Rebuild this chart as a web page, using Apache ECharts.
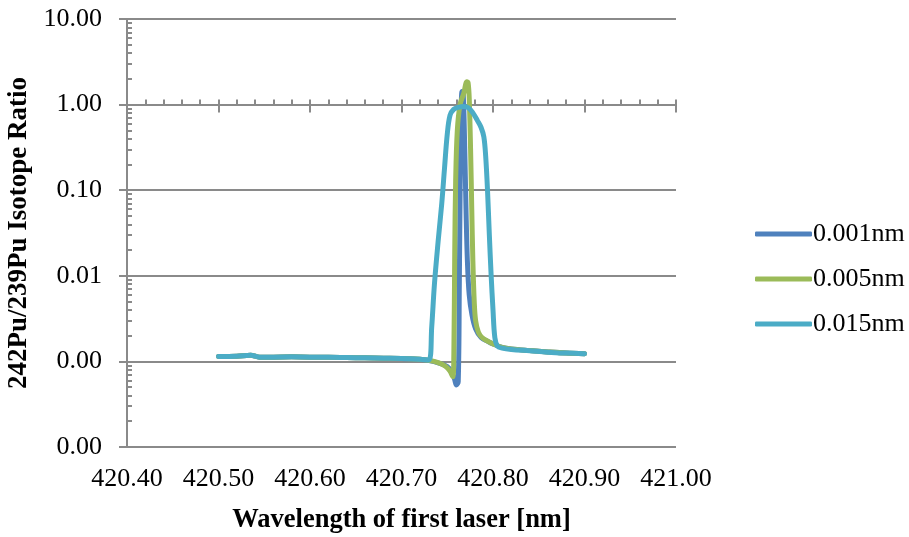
<!DOCTYPE html>
<html>
<head>
<meta charset="utf-8">
<script src="https://cdn.jsdelivr.net/npm/echarts@6/dist/echarts.min.js"></script>
<style>html,body{margin:0;padding:0;background:#fff}#c{width:909px;height:537px}</style>
</head>
<body>
<div id="c"></div>
<script>
// ---- data ----
var seriesNames = ['0.001nm', '0.005nm', '0.015nm'];
var xTickLabels = ['420.40','420.50','420.60','420.70','420.80','420.90','421.00'];
var yTickLabels = ['0.00','0.00','0.01','0.10','1.00','10.00'];

var wl001 = [420.50,420.52,420.535,420.545,420.56,420.58,420.60,420.62,420.64,420.66,420.68,420.70,420.72,420.73,420.74,420.75,420.755,420.758,420.760,420.762,420.7632,420.7642,420.7652,420.7662,420.7675,420.769,420.7705,420.772,420.774,420.777,420.781,420.787,420.795,420.80,420.81,420.82,420.84,420.86,420.88,420.90];
var r001  = [0.00114,0.00115,0.00118,0.00112,0.00112,0.00113,0.00112,0.00112,0.00111,0.00110,0.00109,0.00108,0.00106,0.00102,0.00096,0.00087,0.00075,0.00062,0.00053,0.00058,0.008,0.15,0.9,1.42,1.3,0.35,0.06,0.015,0.006,0.0035,0.0024,0.0019,0.0017,0.0016,0.00146,0.00140,0.00134,0.00129,0.00125,0.00123];

var wl005 = [420.50,420.52,420.535,420.545,420.56,420.58,420.60,420.62,420.64,420.66,420.68,420.70,420.72,420.73,420.74,420.748,420.753,420.756,420.7572,420.7582,420.7592,420.761,420.764,420.768,420.7715,420.7728,420.774,420.7755,420.7768,420.778,420.7795,420.781,420.784,420.788,420.795,420.80,420.81,420.82,420.84,420.86,420.88,420.90];
var r005  = [0.00114,0.00115,0.00118,0.00112,0.00112,0.00113,0.00112,0.00112,0.00111,0.00110,0.00109,0.00108,0.00106,0.00103,0.00097,0.00088,0.00077,0.00066,0.0012,0.02,0.13,0.5,1.0,1.35,1.85,1.8,1.2,0.3,0.06,0.015,0.005,0.003,0.0022,0.0019,0.0017,0.0016,0.00146,0.00140,0.00134,0.00129,0.00125,0.00123];

var wl015 = [420.50,420.52,420.535,420.545,420.56,420.58,420.60,420.62,420.64,420.66,420.68,420.70,420.72,420.730,420.733,420.736,420.740,420.744,420.747,420.750,420.753,420.757,420.762,420.768,420.773,420.778,420.783,420.787,420.790,420.792,420.794,420.796,420.798,420.800,420.802,420.805,420.81,420.82,420.84,420.86,420.88,420.90];
var r015  = [0.00114,0.00115,0.00118,0.00112,0.00112,0.00113,0.00112,0.00112,0.00111,0.00110,0.00109,0.00108,0.00106,0.00104,0.0025,0.008,0.025,0.07,0.18,0.45,0.75,0.88,0.93,0.95,0.92,0.80,0.65,0.54,0.42,0.25,0.1,0.03,0.01,0.004,0.0019,0.0015,0.00143,0.00138,0.00133,0.00128,0.00125,0.00123];

var colors = ['#4F81BD', '#9BBB59', '#4BACC6'];

// minor log tick positions (2..9 in each decade)
var minorTicks = [];
for (var e = -4; e <= 0; e++) { for (var m = 2; m <= 9; m++) { minorTicks.push(parseFloat((m * Math.pow(10, e)).toPrecision(3))); } }

function pairs(xs, ys) { return xs.map(function (x, i) { return [x, ys[i]]; }); }

var gray = '#8a8a8a';
var font = 'Liberation Serif';
var chart = echarts.init(document.getElementById('c'));
var gridL = 127, gridR = 233, gridT = 19, gridB = 90;
var plotH = 537 - gridT - gridB;

function lineSeries(i, xs, ys) {
  return { name: seriesNames[i], type: 'line', xAxisIndex: 0, yAxisIndex: 0, data: pairs(xs, ys),
    showSymbol: false, symbol: 'none', smooth: 0.35,
    lineStyle: { width: 5, cap: 'round', join: 'round' }, z: 3 + i };
}

chart.setOption({
  animation: false,
  backgroundColor: '#fff',
  color: colors,
  grid: [
    { left: gridL, right: gridR, top: gridT, bottom: gridB, containLabel: false, outerBoundsMode: 'none' },
    { left: gridL, right: gridR, top: gridT, height: plotH / 5, containLabel: false, outerBoundsMode: 'none' }
  ],
  legend: {
    orient: 'vertical', left: 750, top: 216, itemWidth: 57, itemHeight: 5, itemGap: 19,
    icon: 'roundRect',
    textStyle: { fontFamily: font, fontSize: 26, color: '#000', lineHeight: 26, padding: [0,0,0,-4] },
    data: seriesNames
  },
  xAxis: [
    { type: 'value', gridIndex: 0, min: 420.4, max: 421.0, interval: 0.1,
      axisLine: { show: false }, axisTick: { show: false }, splitLine: { show: false },
      axisLabel: { margin: 19, fontFamily: font, fontSize: 26, color: '#000',
        formatter: function (v) { var i = Math.round((v - 420.4) / 0.1); return xTickLabels[i]; } },
      name: 'Wavelength of first laser [nm]', nameLocation: 'middle', nameGap: 60,
      nameTextStyle: { fontFamily: font, fontSize: 26.5, fontWeight: 'bold', color: '#000' } },
    { type: 'value', gridIndex: 1, min: 420.4, max: 421.0, interval: 0.02, position: 'bottom',
      axisLine: { show: true, lineStyle: { color: gray, width: 2 } },
      axisTick: { show: true, inside: true, length: 5, lineStyle: { color: gray, width: 2 } },
      axisLabel: { show: false }, splitLine: { show: false } },
    { type: 'value', gridIndex: 1, min: 420.4, max: 421.0, interval: 0.1, position: 'bottom',
      axisLine: { show: false },
      axisTick: { show: true, inside: false, length: 8, lineStyle: { color: gray, width: 2 } },
      axisLabel: { show: false }, splitLine: { show: false } }
  ],
  yAxis: [
    { type: 'log', gridIndex: 0, logBase: 10, min: 0.0001, max: 10, splitNumber: 5,
      axisLine: { show: true, lineStyle: { color: gray, width: 2 } },
      axisTick: { show: true, inside: false, length: 8, lineStyle: { color: gray, width: 2 } },
      splitLine: { show: true, lineStyle: { color: gray, width: 2 } },
      axisLabel: { margin: 25, fontFamily: font, fontSize: 26, color: '#000',
        formatter: function (v) { var i = Math.round(Math.log10(v)) + 4; return yTickLabels[i]; } },
      name: '242Pu/239Pu Isotope Ratio', nameLocation: 'middle', nameGap: 92,
      nameTextStyle: { fontFamily: font, fontSize: 27, fontWeight: 'bold', color: '#000' } },
    { type: 'log', gridIndex: 0, logBase: 10, min: 0.0001, max: 10, position: 'left',
      axisLine: { show: false }, splitLine: { show: false }, axisLabel: { show: false },
      axisTick: { show: true, inside: true, length: 5, customValues: minorTicks, lineStyle: { color: gray, width: 2 } } },
    { type: 'value', gridIndex: 1, show: false, min: 0, max: 1 }
  ],
  series: [
    lineSeries(0, wl001, r001),
    lineSeries(1, wl005, r005),
    lineSeries(2, wl015, r015)
  ]
});
</script>
</body>
</html>
